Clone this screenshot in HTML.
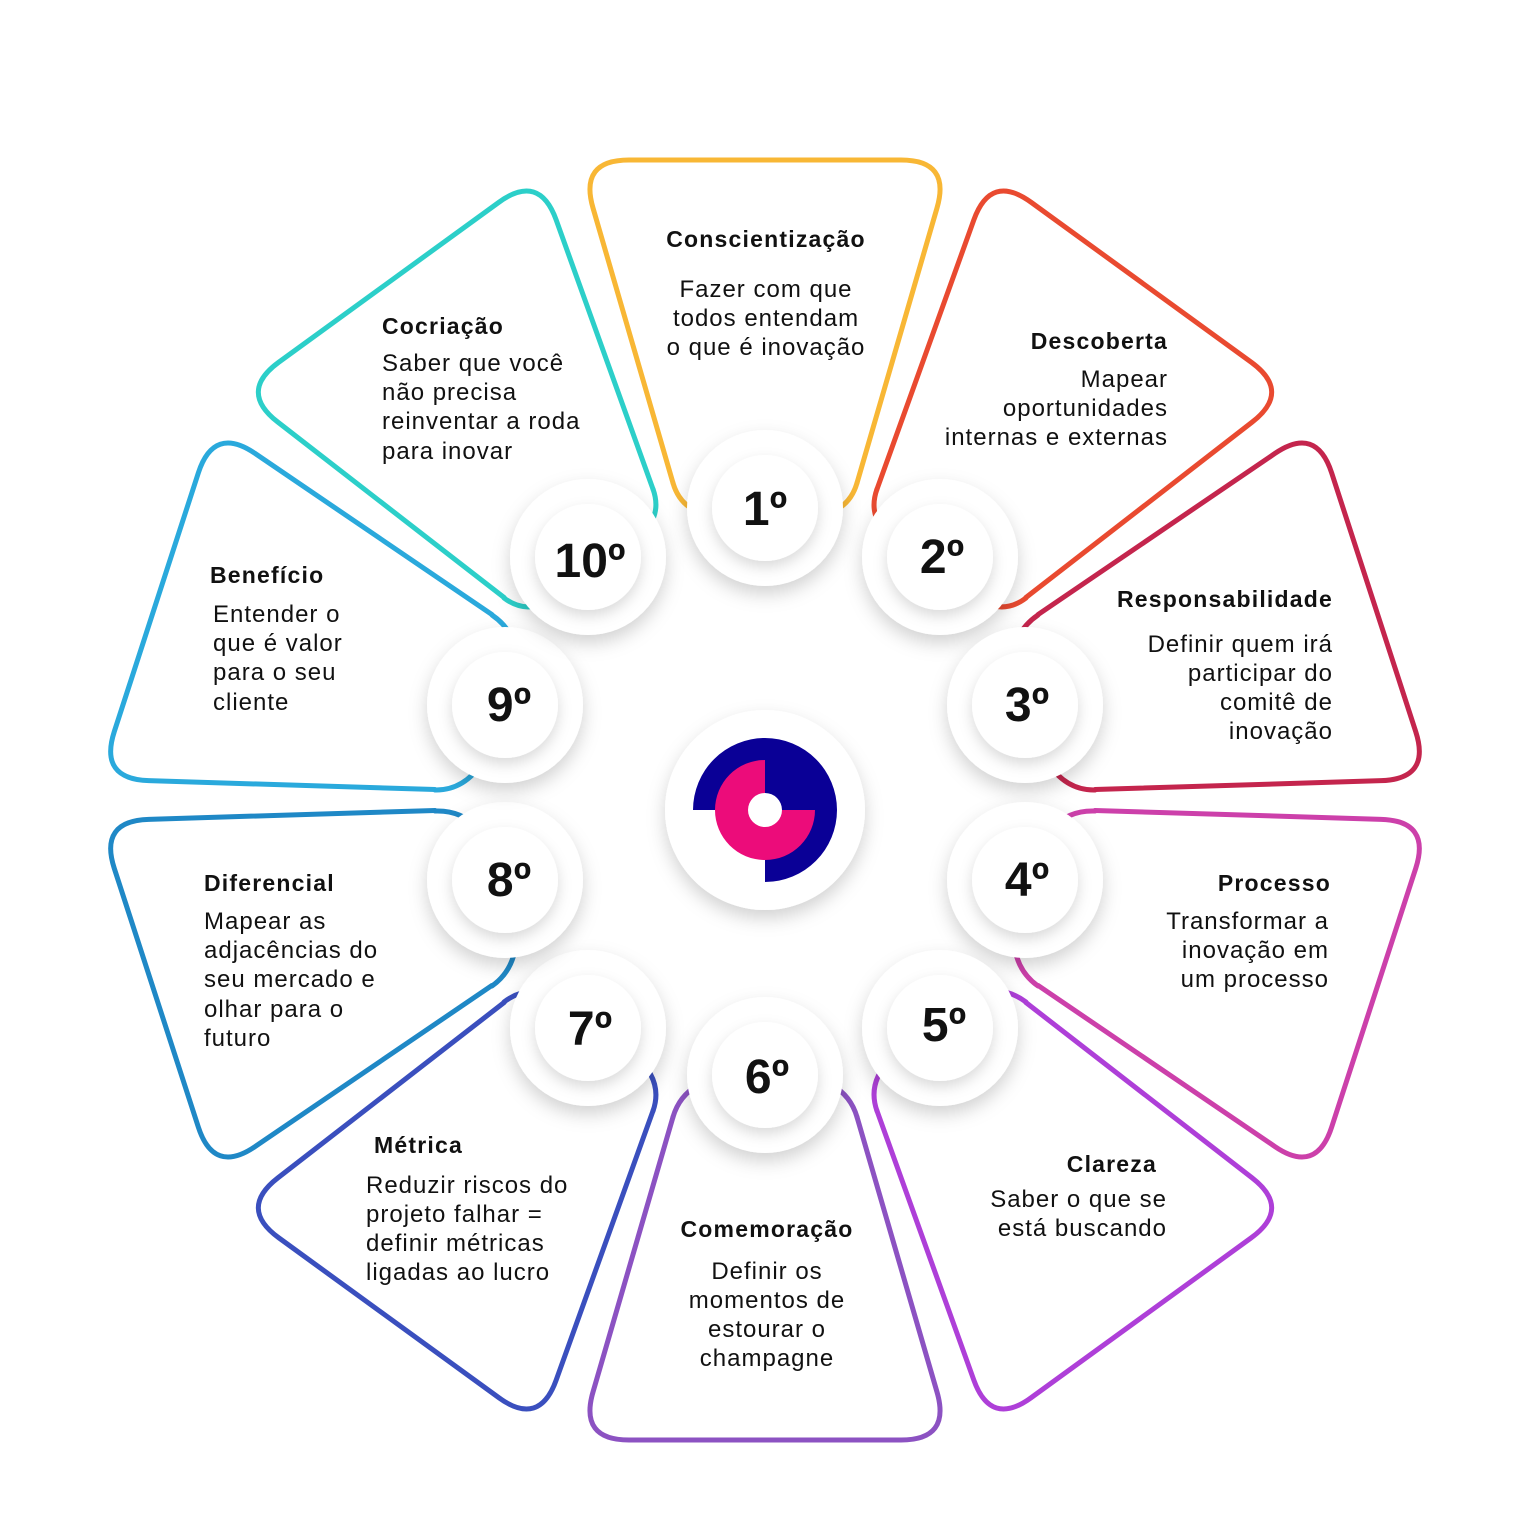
<!DOCTYPE html>
<html><head><meta charset="utf-8"><style>
html,body{margin:0;padding:0;background:#fff;}
svg{display:block;}
text{font-family:"Liberation Sans",sans-serif;fill:#111;}
.t{font-weight:bold;font-size:23px;letter-spacing:1.2px;}
.b{font-size:24px;letter-spacing:1px;}
.n{font-weight:bold;font-size:48px;text-anchor:middle;}
path.p{fill:none;stroke-width:5;stroke-linecap:round;stroke-linejoin:round;}
</style></head><body>
<svg width="1536" height="1536" viewBox="0 0 1536 1536" xmlns="http://www.w3.org/2000/svg">
<defs>
<filter id="sh" x="-50%" y="-50%" width="200%" height="200%">
<feDropShadow dx="0" dy="8" stdDeviation="9" flood-color="#000" flood-opacity="0.18"/>
</filter>
<filter id="sh2" x="-50%" y="-50%" width="200%" height="200%">
<feDropShadow dx="0" dy="6" stdDeviation="7" flood-color="#000" flood-opacity="0.15"/>
</filter>
<path id="pt" class="p" d="M673,483 L593,208 Q579,160 629,160 L901,160 Q951,160 937,208 L857,483"/>
</defs>
<rect width="1536" height="1536" fill="#fff"/>
<g stroke="#f8b735"><use href="#pt" transform="rotate(0 765 800)"/>
<path class="p" d="M673,483 Q687,531 765,508"/><path class="p" d="M857,483 Q843,531 765,508"/></g>
<g stroke="#e94a30"><use href="#pt" transform="rotate(36 765 800)"/>
<path class="p" d="M877,489 Q860,537 940,557"/><path class="p" d="M1026,598 Q986,628 940,557"/></g>
<g stroke="#c4254d"><use href="#pt" transform="rotate(72 765 800)"/>
<path class="p" d="M1038,615 Q997,643 1025,705"/><path class="p" d="M1095,790 Q1045,791 1025,705"/></g>
<g stroke="#cc40aa"><use href="#pt" transform="rotate(108 765 800)"/>
<path class="p" d="M1095,811 Q1045,809 1025,880"/><path class="p" d="M1038,986 Q997,957 1025,880"/></g>
<g stroke="#ae3fd8"><use href="#pt" transform="rotate(144 765 800)"/>
<path class="p" d="M1026,1002 Q986,972 940,1028"/><path class="p" d="M877,1111 Q860,1063 940,1028"/></g>
<g stroke="#8c52c2"><use href="#pt" transform="rotate(180 765 800)"/>
<path class="p" d="M857,1117 Q843,1069 765,1075"/><path class="p" d="M673,1117 Q687,1069 765,1075"/></g>
<g stroke="#3a4fbe"><use href="#pt" transform="rotate(216 765 800)"/>
<path class="p" d="M653,1111 Q670,1063 588,1028"/><path class="p" d="M504,1002 Q544,972 588,1028"/></g>
<g stroke="#1f88c6"><use href="#pt" transform="rotate(252 765 800)"/>
<path class="p" d="M492,986 Q533,957 505,880"/><path class="p" d="M435,811 Q485,809 505,880"/></g>
<g stroke="#2aa9dc"><use href="#pt" transform="rotate(288 765 800)"/>
<path class="p" d="M435,790 Q485,791 505,705"/><path class="p" d="M492,615 Q533,643 505,705"/></g>
<g stroke="#2ccfc9"><use href="#pt" transform="rotate(324 765 800)"/>
<path class="p" d="M504,598 Q544,628 588,557"/><path class="p" d="M653,489 Q670,537 588,557"/></g>

<g>
<circle cx="765" cy="508" r="78" fill="#fff" filter="url(#sh)"/><circle cx="765" cy="508" r="53" fill="#fff" filter="url(#sh2)"/>
<circle cx="940" cy="557" r="78" fill="#fff" filter="url(#sh)"/><circle cx="940" cy="557" r="53" fill="#fff" filter="url(#sh2)"/>
<circle cx="1025" cy="705" r="78" fill="#fff" filter="url(#sh)"/><circle cx="1025" cy="705" r="53" fill="#fff" filter="url(#sh2)"/>
<circle cx="1025" cy="880" r="78" fill="#fff" filter="url(#sh)"/><circle cx="1025" cy="880" r="53" fill="#fff" filter="url(#sh2)"/>
<circle cx="940" cy="1028" r="78" fill="#fff" filter="url(#sh)"/><circle cx="940" cy="1028" r="53" fill="#fff" filter="url(#sh2)"/>
<circle cx="765" cy="1075" r="78" fill="#fff" filter="url(#sh)"/><circle cx="765" cy="1075" r="53" fill="#fff" filter="url(#sh2)"/>
<circle cx="588" cy="1028" r="78" fill="#fff" filter="url(#sh)"/><circle cx="588" cy="1028" r="53" fill="#fff" filter="url(#sh2)"/>
<circle cx="505" cy="880" r="78" fill="#fff" filter="url(#sh)"/><circle cx="505" cy="880" r="53" fill="#fff" filter="url(#sh2)"/>
<circle cx="505" cy="705" r="78" fill="#fff" filter="url(#sh)"/><circle cx="505" cy="705" r="53" fill="#fff" filter="url(#sh2)"/>
<circle cx="588" cy="557" r="78" fill="#fff" filter="url(#sh)"/><circle cx="588" cy="557" r="53" fill="#fff" filter="url(#sh2)"/>
</g>
<text class="n" x="765" y="525">1º</text>
<text class="n" x="942" y="573">2º</text>
<text class="n" x="1027" y="721">3º</text>
<text class="n" x="1027" y="896">4º</text>
<text class="n" x="944" y="1041">5º</text>
<text class="n" x="767" y="1093">6º</text>
<text class="n" x="590" y="1045">7º</text>
<text class="n" x="509" y="896">8º</text>
<text class="n" x="509" y="721">9º</text>
<text class="n" x="590" y="577">10º</text>

<!-- center logo -->
<circle cx="765" cy="810" r="100" fill="#fff" filter="url(#sh)"/>
<path d="M765,810 L693,810 A72,72 0 1 1 765,882 Z" style="fill:#0a0096;stroke:none"/>
<path d="M765,810 L815,810 A50,50 0 1 1 765,760 Z" style="fill:#ec0c7a;stroke:none"/>
<circle cx="765" cy="810" r="17" style="fill:#fff"/>

<!-- texts -->
<g text-anchor="middle">
<text class="t" x="766" y="247">Conscientização</text>
<text class="b" x="766" y="297">Fazer com que</text>
<text class="b" x="766" y="326">todos entendam</text>
<text class="b" x="766" y="355">o que é inovação</text>
<text class="t" x="767" y="1237">Comemoração</text>
<text class="b" x="767" y="1279">Definir os</text>
<text class="b" x="767" y="1308">momentos de</text>
<text class="b" x="767" y="1337">estourar o</text>
<text class="b" x="767" y="1366">champagne</text>
</g>
<g text-anchor="end">
<text class="t" x="1168" y="349">Descoberta</text>
<text class="b" x="1168" y="387">Mapear</text>
<text class="b" x="1168" y="416">oportunidades</text>
<text class="b" x="1168" y="445">internas e externas</text>
<text class="t" x="1333" y="607">Responsabilidade</text>
<text class="b" x="1333" y="652">Definir quem irá</text>
<text class="b" x="1333" y="681">participar do</text>
<text class="b" x="1333" y="710">comitê de</text>
<text class="b" x="1333" y="739">inovação</text>
<text class="t" x="1331" y="891">Processo</text>
<text class="b" x="1329" y="929">Transformar a</text>
<text class="b" x="1329" y="958">inovação em</text>
<text class="b" x="1329" y="987">um processo</text>
<text class="t" x="1157" y="1172">Clareza</text>
<text class="b" x="1167" y="1207">Saber o que se</text>
<text class="b" x="1167" y="1236">está buscando</text>
</g>
<g>
<text class="t" x="374" y="1153">Métrica</text>
<text class="b" x="366" y="1193">Reduzir riscos do</text>
<text class="b" x="366" y="1222">projeto falhar =</text>
<text class="b" x="366" y="1251">definir métricas</text>
<text class="b" x="366" y="1280">ligadas ao lucro</text>
<text class="t" x="204" y="891">Diferencial</text>
<text class="b" x="204" y="929">Mapear as</text>
<text class="b" x="204" y="958">adjacências do</text>
<text class="b" x="204" y="987">seu mercado e</text>
<text class="b" x="204" y="1017">olhar para o</text>
<text class="b" x="204" y="1046">futuro</text>
<text class="t" x="210" y="583">Benefício</text>
<text class="b" x="213" y="622">Entender o</text>
<text class="b" x="213" y="651">que é valor</text>
<text class="b" x="213" y="680">para o seu</text>
<text class="b" x="213" y="710">cliente</text>
<text class="t" x="382" y="334">Cocriação</text>
<text class="b" x="382" y="371">Saber que você</text>
<text class="b" x="382" y="400">não precisa</text>
<text class="b" x="382" y="429">reinventar a roda</text>
<text class="b" x="382" y="459">para inovar</text>
</g>
</svg>
</body></html>
